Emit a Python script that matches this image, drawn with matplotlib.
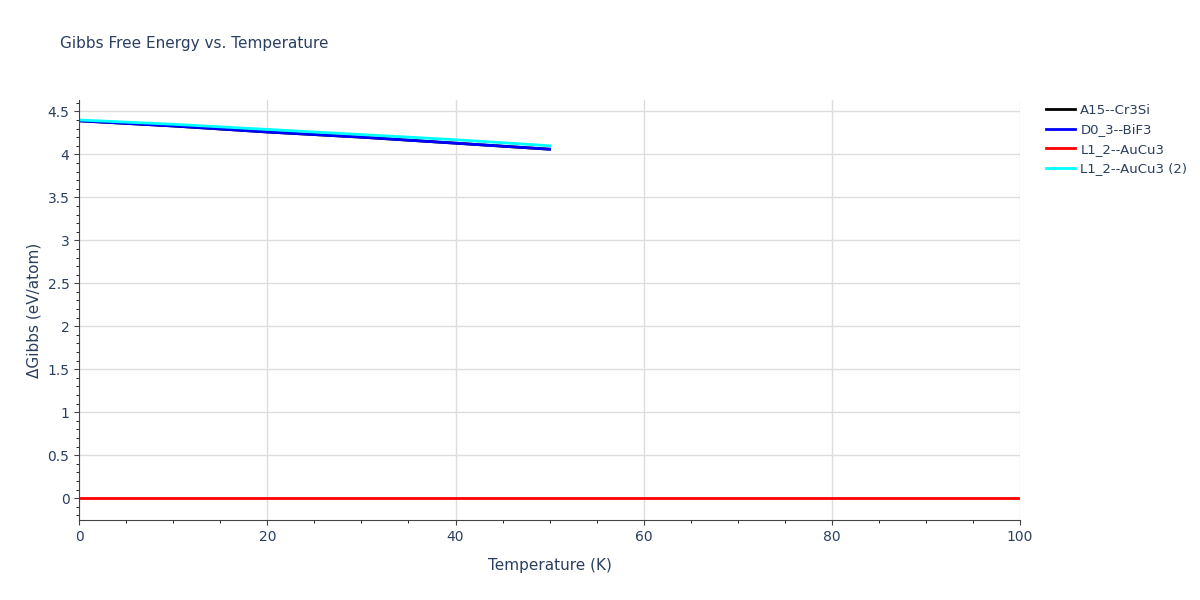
import matplotlib
matplotlib.use("Agg")
import matplotlib.pyplot as plt
from matplotlib.ticker import MultipleLocator

temps_short = [0, 10, 20, 30, 40, 50]
a15 = [4.39, 4.33, 4.26, 4.20, 4.13, 4.06]
d03 = [4.39, 4.33, 4.26, 4.20, 4.13, 4.06]
temps_long = [0, 100]
l12 = [0.0, 0.0]
l12b = [4.40, 4.35, 4.29, 4.23, 4.17, 4.10]

fig = plt.figure(figsize=(12, 6), dpi=100)
ax = fig.add_axes([0.066, 0.133, 0.784, 0.70])
ax.plot(temps_short, a15, color="black", lw=2, label="A15--Cr3Si")
ax.plot(temps_short, d03, color="blue", lw=2, label="D0_3--BiF3")
ax.plot(temps_long, l12, color="red", lw=2, label="L1_2--AuCu3")
ax.plot(temps_short, l12b, color="cyan", lw=2, label="L1_2--AuCu3 (2)")
ax.set_xlim(0, 100)
ax.set_ylim(-0.256, 4.63)
ax.xaxis.set_major_locator(MultipleLocator(20))
ax.xaxis.set_minor_locator(MultipleLocator(5))
ax.yaxis.set_major_locator(MultipleLocator(0.5))
ax.yaxis.set_minor_locator(MultipleLocator(0.1))
ax.yaxis.set_major_formatter(matplotlib.ticker.FuncFormatter(lambda v, p: f"{v:g}"))
ax.grid(True, which="major", color="#dddddd", lw=1)
for s in ["top", "right"]:
    ax.spines[s].set_visible(False)
for s in ["left", "bottom"]:
    ax.spines[s].set_color("#444444")
tc = "#2a3f5f"
ax.tick_params(colors="#444444", labelcolor=tc, labelsize=10)
ax.set_xlabel("Temperature (K)", color=tc, fontsize=11, labelpad=10)
ax.set_ylabel("ΔGibbs (eV/atom)", color=tc, fontsize=11)
fig.text(0.05, 0.92, "Gibbs Free Energy vs. Temperature", color=tc, fontsize=11)
leg = ax.legend(loc="upper left", bbox_to_anchor=(1.015, 1.02), frameon=False,
                fontsize=9.5, handlelength=2.2, handletextpad=0.4)
for t in leg.get_texts():
    t.set_color(tc)
fig.savefig("out.png")
